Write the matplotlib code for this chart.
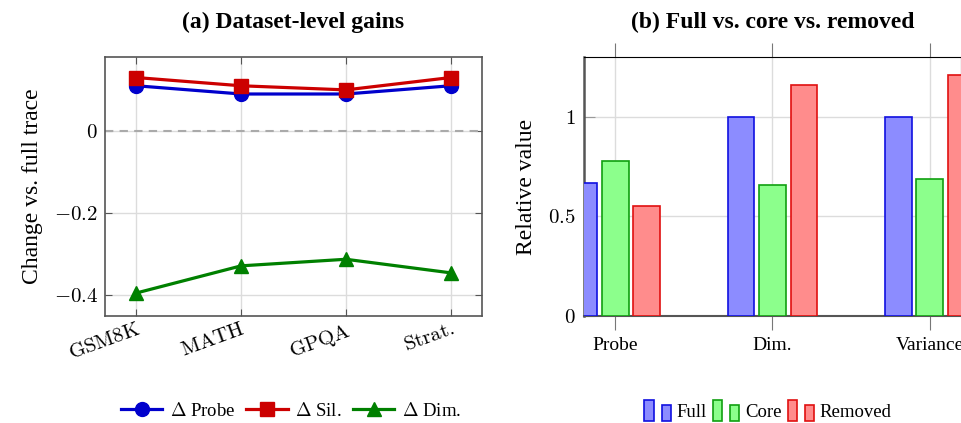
import matplotlib.pyplot as plt
from matplotlib.legend_handler import HandlerBase
from matplotlib.patches import Rectangle, Patch

plt.rcParams['font.family'] = ['Liberation Serif', 'DejaVu Serif']
plt.rcParams['mathtext.fontset'] = 'cm'

# (a) dataset-level gains
datasets = ['GSM8K', 'MATH', 'GPQA', 'Strat.']
d_probe = [0.11, 0.09, 0.09, 0.11]
d_sil = [0.13, 0.11, 0.10, 0.13]
d_dim = [-0.394, -0.328, -0.312, -0.345]

# (b) full vs. core vs. removed
metrics = ['Probe', 'Dim.', 'Variance']
full = [0.67, 1.0, 1.0]
core = [0.78, 0.66, 0.69]
removed = [0.55, 1.16, 1.21]

W, H = 962, 423
fig = plt.figure(figsize=(W / 100, H / 100), dpi=100)

FRAME = '#555555'
GRID = '#dcdcdc'


def px_axes(l, t, r, b):
    return fig.add_axes([l / W, 1 - b / H, (r - l) / W, (b - t) / H])


# ---------- left panel ----------
ax1 = px_axes(105, 57, 482, 316)
xs = list(range(len(datasets)))
ax1.axhline(0, color='#aaaaaa', lw=1.5, ls=(0, (4, 3)), zorder=1)
ax1.plot(xs, d_probe, color='#0000cc', lw=2.3, marker='o', ms=10, label=r'$\Delta$ Probe', zorder=3)
ax1.plot(xs, d_sil, color='#cc0000', lw=2.3, marker='s', ms=10, label=r'$\Delta$ Sil.', zorder=4)
ax1.plot(xs, d_dim, color='#008000', lw=2.3, marker='^', ms=10, label=r'$\Delta$ Dim.', zorder=3)
ax1.set_xlim(-0.3, 3.3)
ax1.set_ylim(-0.45, 0.18)
ax1.set_xticks(xs)
ax1.set_xticklabels([r'$\mathrm{%s}$' % d for d in datasets], rotation=20, ha='right',
                    rotation_mode='anchor', fontsize=15)
ax1.set_yticks([-0.4, -0.2, 0])
ax1.set_yticklabels([r'$-0.4$', r'$-0.2$', r'$0$'], fontsize=15)
ax1.grid(True, color=GRID, lw=1)
ax1.set_axisbelow(True)
for s in ax1.spines.values():
    s.set_color(FRAME)
    s.set_linewidth(1.2)
ax1.tick_params(direction='in', length=5, color=FRAME, top=True, right=True, pad=5)
ax1.tick_params(axis='x', pad=3)
ax1.set_ylabel('Change vs. full trace', fontsize=17, labelpad=8)
ax1.set_title('(a) Dataset-level gains', fontsize=17, fontweight='bold', pad=21)
ax1.legend(loc='center', bbox_to_anchor=(291 / W, 1 - 411 / H), bbox_transform=fig.transFigure,
           ncol=3, frameon=False, fontsize=13.5, handlelength=2.2, handletextpad=0.4,
           columnspacing=0.6, borderpad=0)

# ---------- right panel ----------
ax2 = px_axes(584, 57, 961, 316)
bw = 0.17
xb = list(range(len(metrics)))
ax2.bar([x - 0.2 for x in xb], full, bw, color='#8c8cff', edgecolor='#1010e0', lw=1.2, zorder=3)
ax2.bar(xb, core, bw, color='#8cff8c', edgecolor='#10a010', lw=1.2, zorder=3)
ax2.bar([x + 0.2 for x in xb], removed, bw, color='#ff8c8c', edgecolor='#e01010', lw=1.2, zorder=3)
ax2.set_xlim(-0.2, 2.2)
ax2.set_ylim(0, 1.3)
ax2.set_xticks(xb)
ax2.set_xticklabels(metrics, fontsize=14)
ax2.set_yticks([0, 0.5, 1])
ax2.set_yticklabels([r'$0$', r'$0.5$', r'$1$'], fontsize=15)
ax2.grid(True, color=GRID, lw=1)
ax2.set_axisbelow(True)
ax2.spines['left'].set_color(FRAME)
ax2.spines['left'].set_linewidth(1.8)
ax2.spines['bottom'].set_color(FRAME)
ax2.spines['bottom'].set_linewidth(1.5)
ax2.spines['top'].set_color('black')
ax2.spines['right'].set_color('black')
ax2.tick_params(axis='x', direction='out', length=10, color='#777777', top=True, pad=5)
ax2.tick_params(axis='y', direction='in', length=8, color='#999999', pad=6)
ax2.set_ylabel('Relative value', fontsize=17, labelpad=8)
ax2.set_title('(b) Full vs. core vs. removed', fontsize=17, fontweight='bold', pad=21)


class TwoBars(HandlerBase):
    def create_artists(self, legend, orig, x0, y0, width, height, fontsize, trans):
        fc, ec = orig.get_facecolor(), orig.get_edgecolor()
        r1 = Rectangle((x0, y0 - 0.3 * height), width * 0.36, height * 1.6,
                       facecolor=fc, edgecolor=ec, lw=1.2, transform=trans)
        r2 = Rectangle((x0 + width * 0.66, y0 - 0.3 * height), width * 0.34, height * 1.15,
                       facecolor=fc, edgecolor=ec, lw=1.2, transform=trans)
        return [r1, r2]


bar_handles = [Patch(facecolor='#8c8cff', edgecolor='#1010e0', label='Full'),
               Patch(facecolor='#8cff8c', edgecolor='#10a010', label='Core'),
               Patch(facecolor='#ff8c8c', edgecolor='#e01010', label='Removed')]
ax2.legend(handles=bar_handles, handler_map={Patch: TwoBars()}, loc='center',
           bbox_to_anchor=(768 / W, 1 - 412 / H), bbox_transform=fig.transFigure,
           ncol=3, frameon=False, fontsize=13.5, handlelength=1.4, handletextpad=0.3,
           columnspacing=0.35, borderpad=0)

fig.savefig('out.png', dpi=100)
